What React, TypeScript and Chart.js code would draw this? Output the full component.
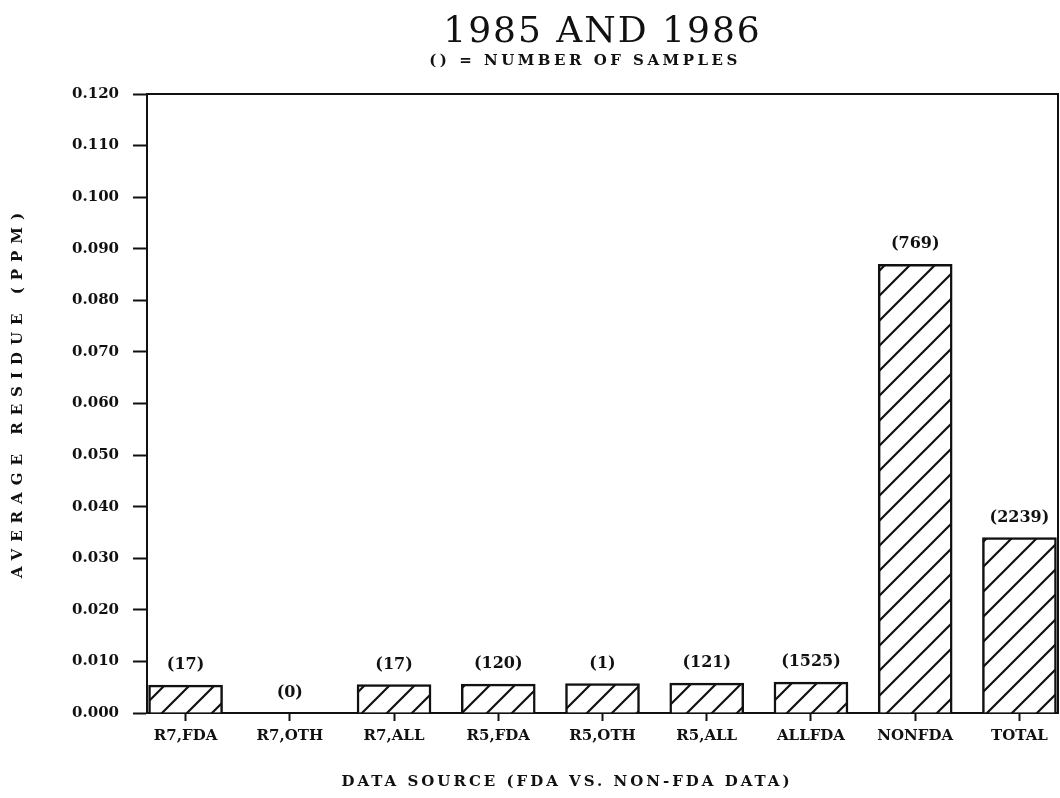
import React, { useEffect, useRef } from "react";
import { Chart, registerables } from "chart.js";

Chart.register(...registerables);

const categories = ["R7,FDA", "R7,OTH", "R7,ALL", "R5,FDA", "R5,OTH", "R5,ALL", "ALLFDA", "NONFDA", "TOTAL"];
const averageResidue = [0.0054, 0, 0.0055, 0.0056, 0.0057, 0.0058, 0.006, 0.087, 0.034];
const sampleCounts = ["(17)", "(0)", "(17)", "(120)", "(1)", "(121)", "(1525)", "(769)", "(2239)"];
const yTicks = [0, 0.01, 0.02, 0.03, 0.04, 0.05, 0.06, 0.07, 0.08, 0.09, 0.1, 0.11, 0.12];

const titleText = "1985 AND 1986";
const subtitleText = "() = NUMBER OF SAMPLES";
const yTitleText = "AVERAGE RESIDUE (PPM)";
const xTitleText = "DATA SOURCE (FDA VS. NON-FDA DATA)";

const INK = "#111111";
const SERIF = "'DejaVu Serif', serif";

function makeHatch(): CanvasPattern | string {
  const s = 25;
  const c = document.createElement("canvas");
  c.width = s;
  c.height = s;
  const g = c.getContext("2d");
  if (!g) return "#fff";
  g.fillStyle = "#fff";
  g.fillRect(0, 0, s, s);
  g.strokeStyle = INK;
  g.lineWidth = 2.2;
  g.beginPath();
  g.moveTo(0, s);
  g.lineTo(s, 0);
  g.moveTo(-3, 3);
  g.lineTo(3, -3);
  g.moveTo(s - 3, s + 3);
  g.lineTo(s + 3, s - 3);
  g.stroke();
  return g.createPattern(c, "repeat") || "#fff";
}

const textPlugin = {
  id: "textPlugin",
  afterDraw(chart: any) {
    const ctx = chart.ctx as CanvasRenderingContext2D;
    const area = chart.chartArea;
    const cx = (area.left + area.right) / 2;
    ctx.save();
    ctx.fillStyle = INK;
    ctx.strokeStyle = INK;

    // frame: top and right lines
    ctx.lineWidth = 2;
    ctx.beginPath();
    ctx.moveTo(area.left, area.top);
    ctx.lineTo(area.right, area.top);
    ctx.lineTo(area.right, area.bottom);
    ctx.stroke();

    // titles
    ctx.textAlign = "center";
    ctx.textBaseline = "middle";
    (ctx as any).letterSpacing = "2px";
    ctx.font = `36px ${SERIF}`;
    ctx.fillText(titleText, cx, 33);
    (ctx as any).letterSpacing = "3.5px";
    ctx.font = `bold 15px ${SERIF}`;
    ctx.fillText(subtitleText, 585, 61);

    // x title
    (ctx as any).letterSpacing = "3px";
    ctx.font = `bold 15px ${SERIF}`;
    ctx.fillText(xTitleText, 567, 782);

    // y title
    ctx.save();
    ctx.translate(18, 392);
    ctx.rotate(-Math.PI / 2);
    (ctx as any).letterSpacing = "7px";
    ctx.font = `bold 15px ${SERIF}`;
    ctx.fillText(yTitleText, 0, 0);
    ctx.restore();

    // count labels
    (ctx as any).letterSpacing = "0px";
    ctx.font = `bold 16px ${SERIF}`;
    const meta = chart.getDatasetMeta(0);
    meta.data.forEach((bar: any, i: number) => {
      ctx.fillText(sampleCounts[i], bar.x, bar.y - 20);
    });
    ctx.restore();
  },
};

export default function App() {
  const ref = useRef<HTMLCanvasElement | null>(null);

  useEffect(() => {
    if (!ref.current) return;
    const hatch = makeHatch();
    const chart = new Chart(ref.current, {
      type: "bar",
      data: {
        datasets: [
          {
            data: averageResidue.map((v, i) => ({ x: i, y: v })),
            backgroundColor: hatch as any,
            borderColor: INK,
            borderWidth: 2.5,
            barThickness: 74,
          },
        ],
      },
      options: {
        responsive: false,
        animation: false,
        layout: { padding: { top: 94, right: 2, left: 0, bottom: 0 } },
        plugins: {
          legend: { display: false },
          title: { display: false },
          tooltip: { enabled: false },
        },
        scales: {
          x: {
            type: "linear",
            offset: false,
            min: -0.37,
            max: 8.37,
            afterBuildTicks: (scale: any) => {
              scale.ticks = categories.map((_, i) => ({ value: i }));
            },
            afterFit: (scale: any) => {
              scale.height = 85;
            },
            grid: {
              offset: false,
              drawOnChartArea: false,
              tickLength: 8,
              tickColor: INK,
              tickWidth: 2,
            },
            border: { display: true, color: INK, width: 2 },
            ticks: {
              autoSkip: false,
              maxRotation: 0,
              minRotation: 0,
              padding: 6,
              color: INK,
              font: { family: SERIF, size: 15, weight: "bold" },
              callback: (v: any) => categories[Math.round(Number(v))] ?? "",
            },
          },
          y: {
            min: 0,
            max: 0.12,
            afterBuildTicks: (scale: any) => {
              scale.ticks = yTicks.map((v) => ({ value: v }));
            },
            afterFit: (scale: any) => {
              scale.width = 147;
            },
            grid: {
              drawOnChartArea: false,
              tickLength: 14,
              tickColor: INK,
              tickWidth: 2,
            },
            border: { display: true, color: INK, width: 2 },
            ticks: {
              padding: 14,
              color: INK,
              font: { family: SERIF, size: 15, weight: "bold" },
              callback: (v: any) => Number(v).toFixed(3),
            },
          },
        },
      },
      plugins: [textPlugin],
    });
    return () => chart.destroy();
  }, []);

  return (
    <div style={{ position: "absolute", left: 0, top: 0, width: 1060, height: 798, background: "#fff" }}>
      <canvas ref={ref} width={1060} height={798} style={{ display: "block" }} />
    </div>
  );
}
